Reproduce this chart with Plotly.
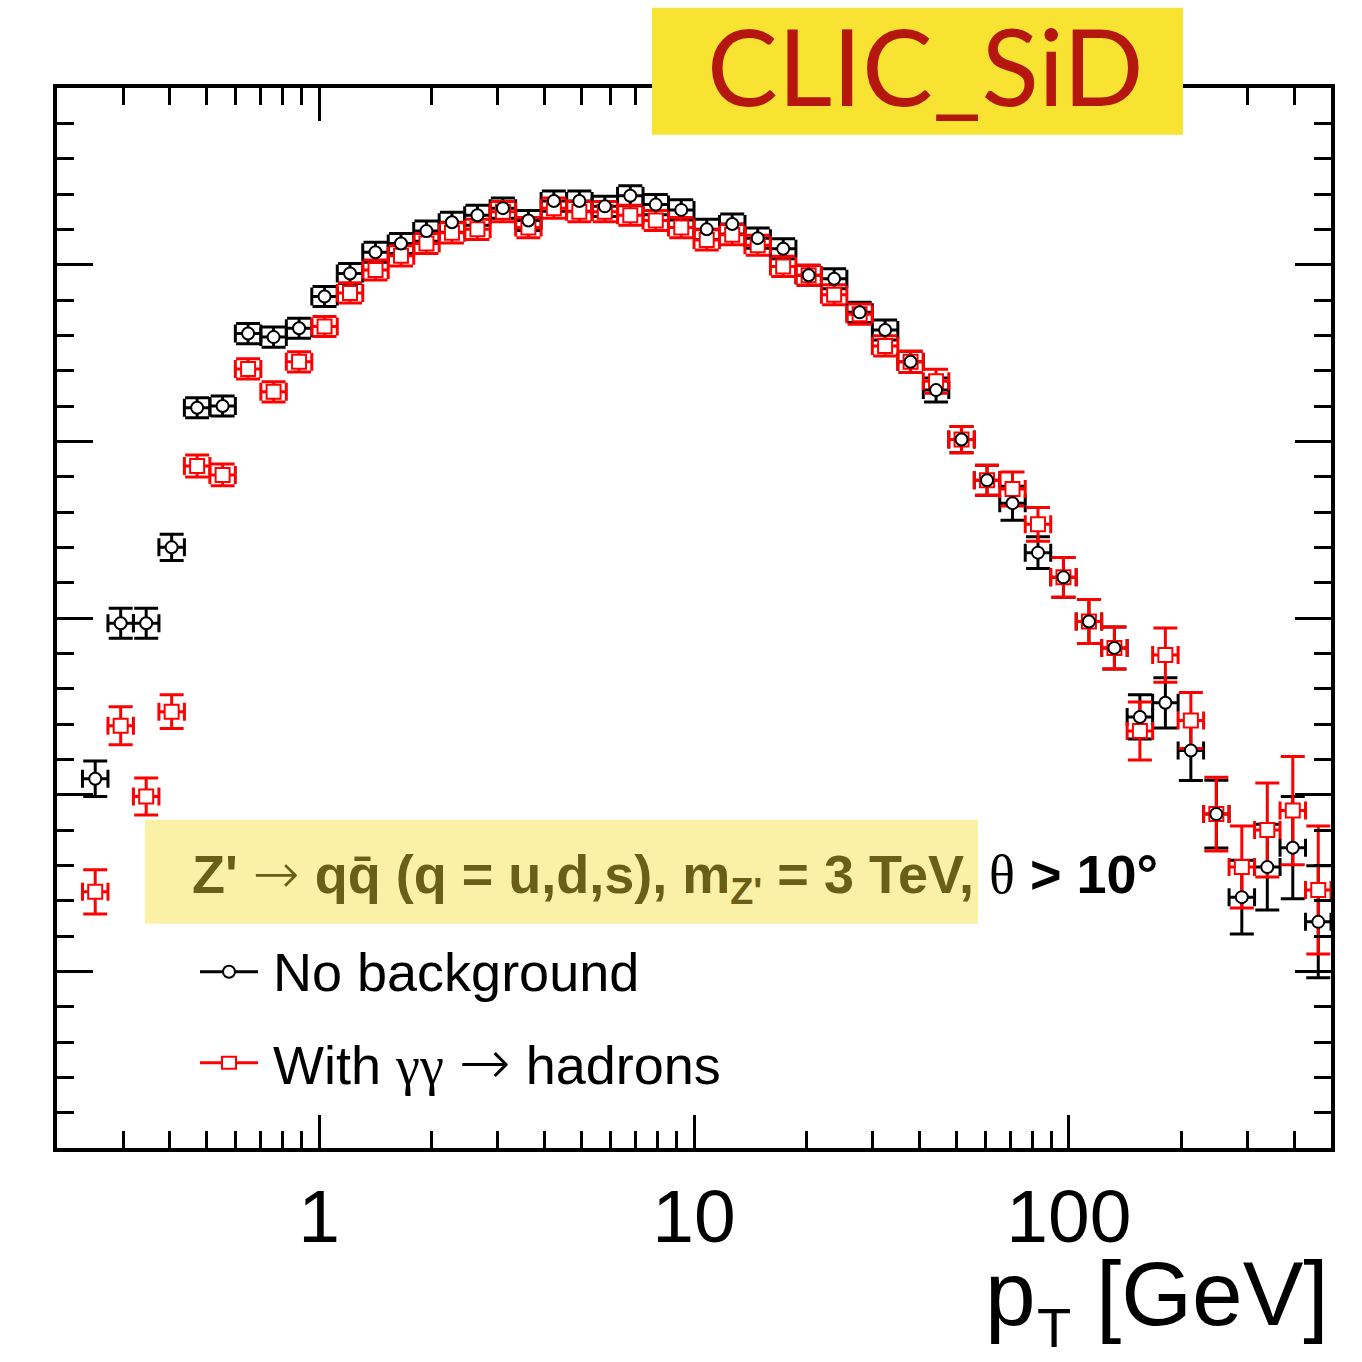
import numpy as np
import plotly.graph_objects as go

# ---- histogram binning: 50 log bins from 0.2 to 500 GeV (first bin empty) ----
PT_MIN, PT_MAX, N_BINS = 0.2, 500.0, 50
edges = PT_MIN * (PT_MAX / PT_MIN) ** (np.arange(N_BINS + 1) / N_BINS)
lo = edges[1:N_BINS]
hi = edges[2:N_BINS + 1]
pt = np.sqrt(lo * hi)

# ---- data (arbitrary linear units) ----
y_nobg = [2.09, 2.97, 2.97, 3.40, 4.19, 4.20, 4.61, 4.59, 4.64, 4.82,
          4.95, 5.07, 5.12, 5.19, 5.24, 5.28, 5.32, 5.25, 5.36, 5.36,
          5.33, 5.39, 5.34, 5.31, 5.20, 5.23, 5.15, 5.09, 4.94, 4.92,
          4.73, 4.63, 4.45, 4.29, 4.01, 3.78, 3.65, 3.37, 3.23, 2.98,
          2.83, 2.44, 2.52, 2.25, 1.89, 1.42, 1.59, 1.70, 1.28]
err_nobg = [0.10, 0.085, 0.085, 0.074, 0.057, 0.057, 0.057, 0.057, 0.057, 0.057,
            0.057, 0.057, 0.057, 0.057, 0.057, 0.057, 0.057, 0.057, 0.057, 0.057,
            0.057, 0.057, 0.057, 0.057, 0.057, 0.057, 0.057, 0.057, 0.057, 0.057,
            0.057, 0.057, 0.060, 0.068, 0.074, 0.085, 0.096, 0.090, 0.113, 0.125,
            0.119, 0.125, 0.142, 0.170, 0.192, 0.209, 0.243, 0.289, 0.317]
y_bg = [1.45, 2.39, 1.99, 2.47, 3.86, 3.81, 4.41, 4.28, 4.45, 4.65,
        4.84, 4.97, 5.05, 5.12, 5.18, 5.20, 5.30, 5.21, 5.32, 5.30,
        5.30, 5.28, 5.25, 5.21, 5.14, 5.17, 5.11, 4.99, 4.94, 4.83,
        4.72, 4.54, 4.45, 4.34, 4.01, 3.78, 3.73, 3.53, 3.23, 2.98,
        2.83, 2.36, 2.79, 2.42, 1.89, 1.59, 1.80, 1.91, 1.46]
err_bg = [0.125, 0.108, 0.105, 0.096, 0.062, 0.062, 0.057, 0.057, 0.057, 0.057,
          0.057, 0.057, 0.057, 0.057, 0.057, 0.057, 0.057, 0.057, 0.057, 0.057,
          0.057, 0.057, 0.057, 0.057, 0.057, 0.057, 0.057, 0.057, 0.057, 0.057,
          0.057, 0.057, 0.060, 0.068, 0.074, 0.085, 0.096, 0.096, 0.113, 0.125,
          0.119, 0.164, 0.153, 0.158, 0.209, 0.232, 0.266, 0.306, 0.362]

x_tickvals = [1, 10, 100]
x_ticktext = ["1", "10", "100"]
x_minor = [0.3, 0.4, 0.5, 0.6, 0.7, 0.8, 0.9, 2, 3, 4, 5, 6, 7, 8, 9,
           20, 30, 40, 50, 60, 70, 80, 90, 200, 300, 400]

BLACK = "#000000"
RED = "#ff0000"

fig = go.Figure()


def bars(y, err, color):
    return go.Scatter(
        x=pt, y=y, mode="markers",
        marker=dict(size=2, opacity=0),
        error_x=dict(type="data", symmetric=False, array=hi - pt, arrayminus=pt - lo,
                     color=color, thickness=3, width=9),
        error_y=dict(type="data", array=err, color=color, thickness=3, width=12),
        showlegend=False, hoverinfo="skip")


fig.add_trace(bars(y_nobg, err_nobg, BLACK))
fig.add_trace(bars(y_bg, err_bg, RED))
fig.add_trace(go.Scatter(x=pt, y=y_bg, mode="markers", showlegend=False,
                         marker=dict(symbol="square", size=14, color="white",
                                     line=dict(color=RED, width=2))))
fig.add_trace(go.Scatter(x=pt, y=y_nobg, mode="markers", showlegend=False,
                         marker=dict(symbol="circle", size=12, color="white",
                                     line=dict(color=BLACK, width=2))))

L, R, T, B = 57, 1331, 88.3, 1148.3
W, H = R - L, B - T


def px(xp):
    return (xp - L) / W


def py(yp):
    return (B - yp) / H


fig.update_xaxes(type="log", range=[np.log10(PT_MIN), np.log10(PT_MAX)],
                 tickvals=x_tickvals, ticktext=x_ticktext,
                 ticks="inside", ticklen=33, tickwidth=3, tickcolor="black",
                 minor=dict(tickvals=x_minor, ticks="inside", ticklen=17,
                            tickwidth=3, tickcolor="black"),
                 showline=True, linewidth=4, linecolor="black", mirror="allticks",
                 showgrid=False, zeroline=False,
                 tickfont=dict(size=75, color="black"), ticklabelstandoff=0)
fig.update_yaxes(range=[0, 6], dtick=1, ticks="inside", ticklen=36, tickwidth=3,
                 tickcolor="black",
                 minor=dict(dtick=0.2, ticks="inside", ticklen=17, tickwidth=3,
                            tickcolor="black"),
                 showticklabels=False,
                 showline=True, linewidth=4, linecolor="black", mirror="allticks",
                 showgrid=False, zeroline=False)

shapes = [
    # CLIC_SiD box
    dict(type="rect", xref="paper", yref="paper", x0=px(652), x1=px(1183),
         y0=py(135), y1=py(8), fillcolor="#F8E232", line=dict(width=0), layer="above"),
    # highlight box
    dict(type="rect", xref="paper", yref="paper", x0=px(145), x1=px(978),
         y0=py(924), y1=py(820), fillcolor="#FAF0A6", line=dict(width=0), layer="above"),
    # legend samples
    dict(type="line", xref="paper", yref="paper", x0=px(200), x1=px(258),
         y0=py(972), y1=py(972), line=dict(color=BLACK, width=3), layer="above"),
    dict(type="circle", xref="paper", yref="paper", xsizemode="pixel", ysizemode="pixel",
         xanchor=px(229), yanchor=py(972), x0=-6, x1=6, y0=-6, y1=6,
         fillcolor="white", line=dict(color=BLACK, width=2), layer="above"),
    dict(type="line", xref="paper", yref="paper", x0=px(200), x1=px(258),
         y0=py(1063), y1=py(1063), line=dict(color=RED, width=3), layer="above"),
    dict(type="rect", xref="paper", yref="paper", xsizemode="pixel", ysizemode="pixel",
         xanchor=px(229), yanchor=py(1063), x0=-7, x1=7, y0=-6, y1=6,
         fillcolor="white", line=dict(color=RED, width=2), layer="above"),
]


def arrow(size):
    return ("<span style='font-family:DejaVu Sans;font-weight:200;font-size:%dpx'>→</span>"
            % size)


annotations = [
    dict(xref="paper", yref="paper", x=px(925), y=py(65), xanchor="center",
         yanchor="middle", text="CLIC_SiD", showarrow=False,
         font=dict(family="Lato", size=106, color="#B5170F")),
    dict(xref="paper", yref="paper", x=px(190), y=py(877), xanchor="left",
         yanchor="middle", showarrow=False,
         text=("<span style='color:#6B5E17'><b>Z' </b>" + arrow(56) +
               "<b> qq\u0304 (q = u,d,s), m<sub>Z'</sub> = 3 TeV,</b></span>"
               " <span style='font-family:Liberation Serif'>θ</span> <b>&gt; 10°</b>"),
         font=dict(size=54, color="black")),
    dict(xref="paper", yref="paper", x=px(271), y=py(972), xanchor="left",
         yanchor="middle", showarrow=False, text="No background",
         font=dict(size=54, color="black")),
    dict(xref="paper", yref="paper", x=px(271), y=py(1063), xanchor="left",
         yanchor="middle", showarrow=False,
         text=("With <span style='font-family:Liberation Serif'>γγ</span> " + arrow(62) +
               " hadrons"),
         font=dict(size=54, color="black")),
    # axis title: p_T [GeV]
    dict(xref="paper", yref="paper", x=px(983), y=py(1294), xanchor="left",
         yanchor="middle", showarrow=False, text="p",
         font=dict(size=91, color="black")),
    dict(xref="paper", yref="paper", x=px(1054), y=py(1361), xanchor="center",
         yanchor="bottom", showarrow=False, text="T",
         font=dict(size=56, color="black")),
    dict(xref="paper", yref="paper", x=1.0, y=py(1294), xanchor="right",
         yanchor="middle", showarrow=False, text="[GeV]",
         font=dict(size=91, color="black")),
]

fig.update_layout(width=1362, height=1362, autosize=False,
                  margin=dict(l=L, r=1362 - R, t=T, b=1362 - B, pad=0),
                  paper_bgcolor="white", plot_bgcolor="white",
                  font=dict(family="Liberation Sans, Arial, sans-serif", color="black"),
                  shapes=shapes, annotations=annotations, showlegend=False)

fig.write_html("out.html")
